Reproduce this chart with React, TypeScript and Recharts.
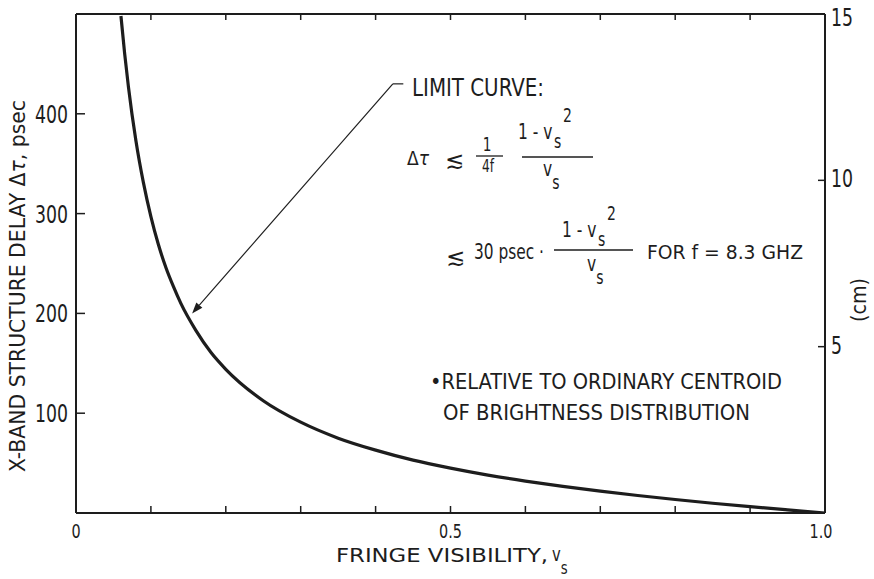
// Fringe visibility vs. X-band structure delay — limit curve, redrawn with Recharts.
import { Line, LineChart, ReferenceLine, XAxis, YAxis } from 'recharts';

const FONT = "'DejaVu Sans Condensed', 'Liberation Sans Narrow', 'DejaVu Sans', sans-serif";
const INK = '#1d1d1d';

// Limit curve: fringe visibility v_s vs. delay in psec.
const visibility = [
  0.06, 0.065, 0.07, 0.08, 0.09, 0.1, 0.11, 0.12, 0.13, 0.14, 0.16, 0.18, 0.2, 0.25, 0.3,
  0.35, 0.4, 0.45, 0.5, 0.55, 0.6, 0.65, 0.7, 0.75, 0.8, 0.85, 0.9, 0.95, 1.0,
];
const delayPsec = [
  498, 460, 427, 373, 331, 297, 269, 246, 227, 210, 183, 161, 144, 112.5, 91,
  75, 63, 53, 45, 38, 32, 26.7, 21.9, 17.5, 13.5, 9.8, 6.3, 3.1, 0,
];

const xTicks = [0, 0.1, 0.2, 0.3, 0.4, 0.5, 0.6, 0.7, 0.8, 0.9, 1.0];
const xTickLabels = [
  { v: 0, label: '0' },
  { v: 0.5, label: '0.5' },
  { v: 1.0, label: '1.0' },
];
const psecTicks = [100, 200, 300, 400];
const cmTicks = [5, 10, 15];

const data = visibility.map((v, i) => ({ v, delay: delayPsec[i] }));

const labelFor = (val: number) => xTickLabels.find((t) => Math.abs(t.v - val) < 1e-6)?.label;
const isEdge = (val: number) => val <= 0 || val >= 1;

// condensed text: the original lettering is tall and narrow
function CText({ x, y, sx = 0.8, size = 22, anchor = 'start', children }: any) {
  return (
    <text
      transform={`translate(${x},${y}) scale(${sx},1)`}
      textAnchor={anchor}
      fontFamily={FONT}
      fontSize={size}
      fill={INK}
    >
      {children}
    </text>
  );
}

function BottomTick({ x, y, payload }: any) {
  const label = labelFor(payload.value);
  return (
    <g>
      {!isEdge(payload.value) && <line x1={x} y1={y} x2={x} y2={y - 7} stroke={INK} strokeWidth={1.5} />}
      {label && (
        <CText x={x - (payload.value >= 1 ? 4 : 0)} y={y + 25} size={20} anchor="middle">
          {label}
        </CText>
      )}
    </g>
  );
}

function TopTick({ x, y, payload }: any) {
  if (isEdge(payload.value)) return <g />;
  return <line x1={x} y1={y} x2={x} y2={y + 6} stroke={INK} strokeWidth={1.5} />;
}

function LeftTick({ x, y, payload }: any) {
  return (
    <g>
      <line x1={x} y1={y} x2={x + 9} y2={y} stroke={INK} strokeWidth={1.5} />
      <CText x={x - 8} y={y + 9} size={24} anchor="end">
        {payload.value}
      </CText>
    </g>
  );
}

function RightTick({ x, y, payload }: any) {
  return (
    <g>
      {payload.value < 15 && <line x1={x - 7} y1={y} x2={x} y2={y} stroke={INK} strokeWidth={1.5} />}
      <CText x={x + 6} y={y + (payload.value >= 15 ? 12 : 7)} size={24}>
        {payload.value}
      </CText>
    </g>
  );
}

function Arrow(props: any) {
  const { x1, y1, x2, y2 } = props;
  const ang = Math.atan2(y2 - y1, x2 - x1);
  const len = 11;
  const w = 4;
  const bx = x2 - len * Math.cos(ang);
  const by = y2 - len * Math.sin(ang);
  const px = -Math.sin(ang) * w;
  const py = Math.cos(ang) * w;
  return (
    <g>
      <line x1={x1} y1={y1} x2={bx} y2={by} stroke={INK} strokeWidth={1.2} />
      <polygon points={`${x2},${y2} ${bx + px},${by + py} ${bx - px},${by - py}`} fill={INK} />
    </g>
  );
}

// "1 - v_s²" numerator, subscript and superscript follow the text flow
function Numerator({ x, y }: { x: number; y: number }) {
  return (
    <CText x={x} y={y} size={21} sx={0.82}>
      1 - v
      <tspan dx={2} dy={9} fontSize={19}>s</tspan>
      <tspan dx={2} dy={-26} fontSize={19}>2</tspan>
    </CText>
  );
}

function Vs({ x, y, size = 21 }: { x: number; y: number; size?: number }) {
  return (
    <CText x={x} y={y} size={size} sx={0.82}>
      v
      <tspan dx={0} dy={13} fontSize={size - 2}>s</tspan>
    </CText>
  );
}

function Annotations() {
  const t = { fontFamily: FONT, fill: INK };
  return (
    <g>
      <text x={412} y={96} fontSize={24} {...t} textLength={132} lengthAdjust="spacingAndGlyphs">
        LIMIT CURVE:
      </text>

      {/* Δτ ≲ 1/4f · (1 - v_s²)/v_s */}
      <text x={407} y={165} fontSize={19} {...t}>
        Δ<tspan fontStyle="italic">τ</tspan>
      </text>
      <text x={445} y={168} fontSize={23} fill={INK} fontFamily="'DejaVu Sans', sans-serif">≲</text>
      <CText x={487} y={151} size={19} anchor="middle">1</CText>
      <line x1={476} y1={156} x2={503} y2={156} stroke={INK} strokeWidth={1.3} />
      <CText x={488} y={172} size={17} anchor="middle">4f</CText>
      <Numerator x={518} y={139} />
      <line x1={522} y1={157} x2={593} y2={157} stroke={INK} strokeWidth={1.3} />
      <Vs x={543} y={176} />

      {/* ≲ 30 psec · (1 - v_s²)/v_s FOR f = 8.3 GHZ */}
      <text x={446} y={265} fontSize={23} fill={INK} fontFamily="'DejaVu Sans', sans-serif">≲</text>
      <text x={474} y={259} fontSize={21} {...t} textLength={70} lengthAdjust="spacingAndGlyphs">
        30 psec ·
      </text>
      <Numerator x={562} y={237} />
      <line x1={554} y1={250} x2={633} y2={250} stroke={INK} strokeWidth={1.3} />
      <Vs x={587} y={271} />
      <text x={647} y={259} fontSize={20} {...t} textLength={156} lengthAdjust="spacingAndGlyphs">
        FOR  f = 8.3 GHZ
      </text>

      <text x={430} y={389} fontSize={22} {...t} textLength={352} lengthAdjust="spacingAndGlyphs">
        •RELATIVE TO ORDINARY CENTROID
      </text>
      <text x={443} y={420} fontSize={22} {...t} textLength={307} lengthAdjust="spacingAndGlyphs">
        OF BRIGHTNESS DISTRIBUTION
      </text>

      {/* axis titles */}
      <text
        transform="translate(25,286) rotate(-90)"
        textAnchor="middle"
        fontSize={21}
        {...t}
        textLength={372}
        lengthAdjust="spacingAndGlyphs"
      >
        X-BAND STRUCTURE DELAY Δ<tspan fontStyle="italic">τ</tspan>, psec
      </text>
      <text
        transform="translate(866,300) rotate(-90)"
        textAnchor="middle"
        fontSize={21}
        {...t}
        textLength={44}
        lengthAdjust="spacingAndGlyphs"
      >
        (cm)
      </text>
      <text x={336} y={562} fontSize={19} {...t} textLength={212} lengthAdjust="spacingAndGlyphs">
        FRINGE VISIBILITY,
      </text>
      <Vs x={552} y={561} size={20} />
    </g>
  );
}

export default function App() {
  return (
    <div style={{ position: 'absolute', left: 0, top: 0, width: 874, height: 579, background: '#fff' }}>
      <LineChart
        width={874}
        height={579}
        data={data}
        margin={{ top: 13, right: 19, bottom: 36, left: 36 }}
      >
        <XAxis
          xAxisId="bottom"
          dataKey="v"
          type="number"
          domain={[0, 1]}
          ticks={xTicks}
          interval={0}
          height={30}
          tickSize={0}
          tickMargin={0}
          axisLine={{ stroke: INK, strokeWidth: 2 }}
          tick={<BottomTick />}
        />
        <XAxis
          xAxisId="top"
          orientation="top"
          dataKey="v"
          type="number"
          domain={[0, 1]}
          ticks={xTicks}
          interval={0}
          height={1}
          tickSize={0}
          tickMargin={0}
          axisLine={{ stroke: INK, strokeWidth: 2 }}
          tick={<TopTick />}
        />
        <YAxis
          yAxisId="psec"
          dataKey="delay"
          type="number"
          domain={[0, 500]}
          allowDataOverflow
          ticks={psecTicks}
          interval={0}
          width={40}
          tickSize={0}
          tickMargin={0}
          axisLine={{ stroke: INK, strokeWidth: 2 }}
          tick={<LeftTick />}
        />
        <YAxis
          yAxisId="cm"
          orientation="right"
          dataKey="delay"
          type="number"
          domain={[0, 15]}
          allowDataOverflow
          ticks={cmTicks}
          interval={0}
          width={30}
          tickSize={0}
          tickMargin={0}
          axisLine={{ stroke: INK, strokeWidth: 2 }}
          tick={<RightTick />}
        />
        <ReferenceLine
          xAxisId="bottom"
          yAxisId="psec"
          segment={[
            { x: 0.423, y: 430 },
            { x: 0.155, y: 200 },
          ]}
          stroke={INK}
          shape={<Arrow />}
        />
        <ReferenceLine
          xAxisId="bottom"
          yAxisId="psec"
          segment={[
            { x: 0.423, y: 430 },
            { x: 0.437, y: 430 },
          ]}
          stroke={INK}
          strokeWidth={1.2}
        />
        <Line
          xAxisId="bottom"
          yAxisId="psec"
          type="monotone"
          dataKey="delay"
          stroke={INK}
          strokeWidth={3.2}
          dot={false}
          activeDot={false}
          isAnimationActive={false}
        />
        <Annotations />
      </LineChart>
    </div>
  );
}
